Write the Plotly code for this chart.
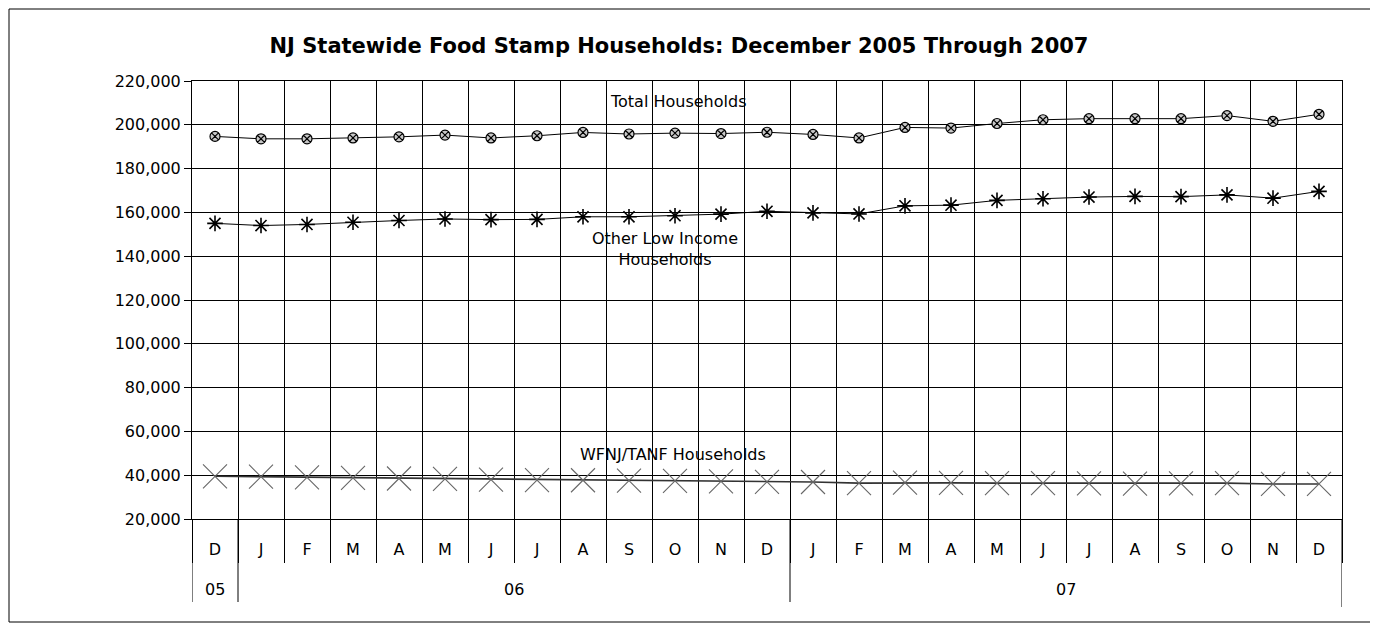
import plotly.graph_objects as go

# ---- data ----
months = ["D", "J", "F", "M", "A", "M", "J", "J", "A", "S", "O", "N", "D",
          "J", "F", "M", "A", "M", "J", "J", "A", "S", "O", "N", "D"]
years = ["05"] + ["06"] * 12 + ["07"] * 12

total_households = [194700, 193600, 193600, 194000, 194500, 195300, 194000, 195000,
                    196500, 195800, 196200, 196000, 196600, 195600, 194000, 198800,
                    198500, 200600, 202300, 202800, 202800, 202800, 204200, 201600, 204800]
other_low_income = [155000, 154000, 154500, 155500, 156300, 157000, 156700, 156800,
                    158000, 158000, 158500, 159200, 160500, 159800, 159300, 163000,
                    163300, 165500, 166200, 167000, 167300, 167200, 168000, 166500, 169600]
wfnj_tanf = [39500, 39300, 39000, 38800, 38500, 38300, 38000, 37800, 37700, 37500,
             37400, 37200, 37000, 36900, 36400, 36600, 36500, 36400, 36400, 36300,
             36200, 36300, 36400, 36000, 36000]

y_ticks = [20000, 40000, 60000, 80000, 100000, 120000, 140000, 160000, 180000, 200000, 220000]

# unique category keys (repeated letters get an invisible zero-width suffix)
seen = {}
cats = []
for m in months:
    n = seen.get(m, 0)
    seen[m] = n + 1
    cats.append(m + "\u200b" * n)

FONT = "DejaVu Sans"

# page geometry (the page body has an 8px margin, so the figure starts at 8,8)
OFF = 8
W, H = 1378 - OFF, 625 - OFF
PLOT_L, PLOT_R, PLOT_T, PLOT_B = 192, 1342, 81, 519   # page pixels
L, R, T, B = PLOT_L - OFF, W - (PLOT_R - OFF), PLOT_T - OFF, H - (PLOT_B - OFF)
PW, PH = W - L - R, H - T - B


def py(page_y):
    """page pixel row -> paper y"""
    return (PLOT_B - page_y) / PH


def pxx(page_x):
    """page pixel column -> paper x"""
    return (page_x - PLOT_L) / PW


fig = go.Figure()
fig.add_trace(go.Scatter(
    x=cats, y=total_households, mode="lines+markers", name="Total Households",
    line=dict(color="black", width=1),
    marker=dict(symbol="circle-x", size=10, color="#c8c8c8",
                line=dict(color="black", width=1.2)),
))
fig.add_trace(go.Scatter(
    x=cats, y=other_low_income, mode="lines+markers", name="Other Low Income Households",
    line=dict(color="black", width=1),
    marker=dict(symbol="asterisk-open", size=13, color="black",
                line=dict(color="black", width=1.6)),
))
fig.add_trace(go.Scatter(
    x=cats, y=wfnj_tanf, mode="lines+markers", name="WFNJ/TANF Households",
    line=dict(color="#333333", width=1.6),
    marker=dict(symbol="x-thin-open", size=24, color="#666666",
                line=dict(color="#666666", width=1.1)),
))

# year group separators and labels
shapes = []
annotations = []
group_starts = [i for i in range(len(years)) if i == 0 or years[i] != years[i - 1]]
group_ends = group_starts[1:] + [len(years)]
for s, e in zip(group_starts, group_ends):
    shapes.append(dict(type="line", xref="x", yref="paper", x0=s - 0.5, x1=s - 0.5,
                       y0=py(602), y1=0, line=dict(color="black", width=1)))
    annotations.append(dict(text=years[s], xref="x", yref="paper",
                            x=(s + e - 1) / 2, y=py(589), showarrow=False,
                            xanchor="center", yanchor="middle",
                            font=dict(family=FONT, size=16, color="black")))
shapes.append(dict(type="line", xref="x", yref="paper", x0=len(years) - 0.5,
                   x1=len(years) - 0.5, y0=py(607), y1=0,
                   line=dict(color="black", width=1)))
# outer chart frame
shapes.append(dict(type="rect", xref="paper", yref="paper",
                   x0=pxx(OFF + 1), x1=pxx(1372), y0=py(622), y1=py(OFF + 1),
                   line=dict(color="black", width=1), fillcolor="rgba(0,0,0,0)",
                   layer="below"))

annotations += [
    dict(text="Total Households", xref="paper", yref="y",
         x=pxx(678), y=210800, showarrow=False, yanchor="middle",
         font=dict(family=FONT, size=16, color="black")),
    dict(text="Other Low Income<br>Households", xref="paper", yref="y",
         x=pxx(665), y=143400, showarrow=False, yanchor="middle",
         font=dict(family=FONT, size=16, color="black")),
    dict(text="WFNJ/TANF Households", xref="paper", yref="y",
         x=pxx(673), y=49300, showarrow=False, yanchor="middle",
         font=dict(family=FONT, size=16, color="black")),
]

fig.update_layout(
    width=W, height=H,
    paper_bgcolor="white", plot_bgcolor="white",
    margin=dict(l=L, r=R, t=T, b=B, autoexpand=False),
    showlegend=False,
    font=dict(family=FONT, color="black", size=16),
    title=dict(
        text="<b>NJ Statewide Food Stamp Households: December 2005 Through 2007</b>",
        x=(679 - OFF) / W, xref="container", xanchor="center",
        y=1 - (46 - OFF) / H, yref="container", yanchor="middle",
        font=dict(family=FONT, size=21, color="black"),
    ),
    xaxis=dict(
        type="category", range=[-0.5, len(cats) - 0.5],
        tickson="boundaries",
        showgrid=True, gridcolor="black", gridwidth=1,
        showline=True, linecolor="black", linewidth=1, mirror=True,
        ticks="outside", ticklen=43, tickcolor="black", tickwidth=1,
        ticklabelstandoff=16,
        tickfont=dict(family=FONT, size=16, color="black"),
        automargin=False,
    ),
    yaxis=dict(
        range=[20000, 220000], tickvals=y_ticks, tickformat=",",
        showgrid=True, gridcolor="black", gridwidth=1,
        showline=True, linecolor="black", linewidth=1, mirror=True,
        ticks="outside", ticklen=7, tickcolor="black",
        tickfont=dict(family=FONT, size=16, color="black"),
        zeroline=False, automargin=False,
    ),
    shapes=shapes,
    annotations=annotations,
)

fig.write_html("out.html")
